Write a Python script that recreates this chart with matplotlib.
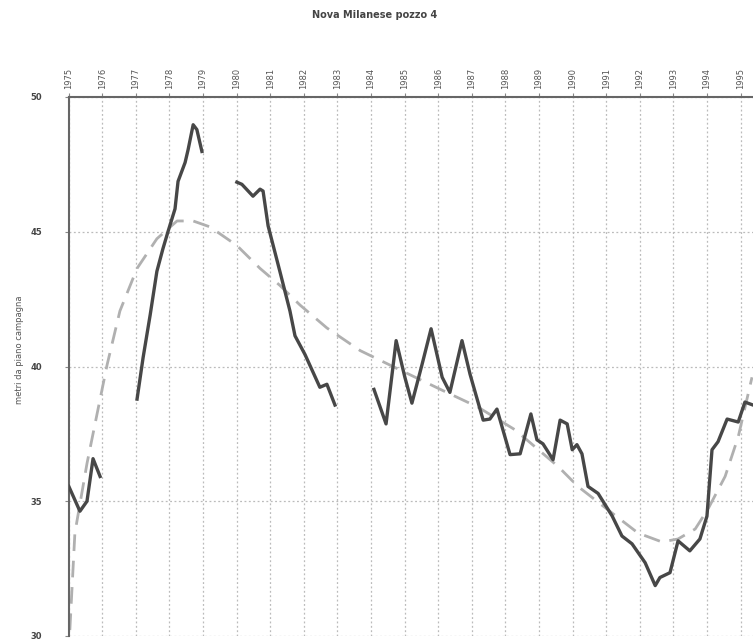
import matplotlib
matplotlib.use("Agg")
import matplotlib.pyplot as plt
import numpy as np

# livello misurato (tratti separati da lacune nelle misure)
seg1_years = [1975.01, 1975.34, 1975.55, 1975.73, 1975.94]
seg1_vals = [35.55, 34.63, 35.00, 36.58, 35.92]

seg2_years = [1977.04, 1977.22, 1977.43, 1977.63, 1977.81, 1977.96, 1978.17,
              1978.26, 1978.47, 1978.56, 1978.71, 1978.82, 1978.97]
seg2_vals = [38.79, 40.33, 41.91, 43.53, 44.37, 45.00, 45.85,
             46.87, 47.57, 48.05, 48.97, 48.79, 47.98]

seg3_years = [1980.01, 1980.16, 1980.49, 1980.70, 1980.79, 1980.94, 1981.29,
              1981.59, 1981.74, 1982.04, 1982.48, 1982.69, 1982.93]
seg3_vals = [46.84, 46.76, 46.32, 46.58, 46.51, 45.22, 43.53,
             42.06, 41.14, 40.44, 39.23, 39.34, 38.57]

seg4_years = [1984.09, 1984.45, 1984.75, 1985.01, 1985.22, 1985.52, 1985.79,
              1986.12, 1986.35, 1986.71, 1986.95, 1987.34, 1987.54, 1987.75,
              1988.14, 1988.44, 1988.76, 1988.94, 1989.12, 1989.42, 1989.63,
              1989.84, 1989.99, 1990.13, 1990.28, 1990.46, 1990.76, 1991.18,
              1991.47, 1991.77, 1992.16, 1992.46, 1992.60, 1992.90, 1993.14,
              1993.49, 1993.79, 1994.00, 1994.15, 1994.33, 1994.60, 1994.93,
              1995.13, 1995.37]
seg4_vals = [39.15, 37.87, 40.96, 39.60, 38.64, 40.07, 41.40,
             39.60, 39.04, 40.96, 39.71, 38.01, 38.05, 38.42,
             36.73, 36.76, 38.24, 37.28, 37.13, 36.54, 38.01,
             37.87, 36.91, 37.10, 36.76, 35.55, 35.29, 34.45,
             33.71, 33.42, 32.72, 31.87, 32.17, 32.35, 33.53,
             33.16, 33.60, 34.45, 36.91, 37.21, 38.05, 37.94,
             38.68, 38.57]

# linea di tendenza
trend_years = [1975.04, 1975.19, 1975.55, 1975.85, 1976.15, 1976.53, 1977.04,
               1977.63, 1978.23, 1978.71, 1979.21, 1980.01, 1980.70, 1981.29,
               1981.89, 1982.69, 1983.68, 1984.72, 1986.12, 1987.19, 1988.29,
               1989.57, 1990.16, 1991.18, 1991.95, 1992.66, 1993.14, 1993.65,
               1994.03, 1994.54, 1994.93, 1995.34]
trend_vals = [30.22, 33.82, 36.40, 38.24, 40.07, 42.06, 43.64,
              44.74, 45.40, 45.40, 45.18, 44.49, 43.64, 43.01,
              42.28, 41.43, 40.59, 39.96, 39.12, 38.49, 37.65,
              36.29, 35.55, 34.56, 33.82, 33.49, 33.60, 33.97,
              34.71, 35.92, 37.39, 39.60]

year_ticks = list(range(1975, 1996))
y_ticks = [30, 35, 40, 45, 50]

fig = plt.figure(figsize=(7.53, 6.41), dpi=100)
ax = fig.add_axes([68.5 / 753, 5 / 641, (753 - 68.5) / 753, 1 - 102 / 641])

for xs, ys in [(seg1_years, seg1_vals), (seg2_years, seg2_vals),
               (seg3_years, seg3_vals), (seg4_years, seg4_vals)]:
    ax.plot(xs, ys, color="#474747", lw=2.4, solid_joinstyle="round", zorder=3)

ax.plot(trend_years, trend_vals, color="#b0b0b0", lw=2, ls=(0, (6, 3.5)), zorder=2)

ax.set_xlim(1975, 1995.37)
ax.set_ylim(30, 50)
ax.set_xticks(year_ticks)
ax.set_yticks(y_ticks)
ax.xaxis.tick_top()
ax.set_xticklabels([str(y) for y in year_ticks], rotation=90, fontsize=6,
                   color="#555555")
ax.set_yticklabels([str(v) for v in y_ticks], fontsize=6, color="#444444",
                   fontweight="bold")
ax.tick_params(axis="x", length=3, pad=3, color="#888888")
ax.tick_params(axis="y", length=3, pad=16, color="#888888")

ax.grid(True, color="#bbbbbb", ls=(0, (1.5, 2)), lw=0.9)
ax.spines["right"].set_visible(False)
ax.spines["bottom"].set_visible(False)
ax.spines["left"].set_color("#666666")
ax.spines["top"].set_color("#666666")
ax.spines["left"].set_linewidth(1.5)
ax.spines["top"].set_linewidth(1.5)

fig.text(20 / 753, 1 - 350 / 641, "metri da piano campagna", rotation=90,
         ha="center", va="center", fontsize=6, color="#555555")
fig.text(375 / 753, 1 - 15 / 641, "Nova Milanese pozzo 4", ha="center",
         va="center", fontsize=7, fontweight="bold", color="#444444")

fig.savefig("out.png", dpi=100)
